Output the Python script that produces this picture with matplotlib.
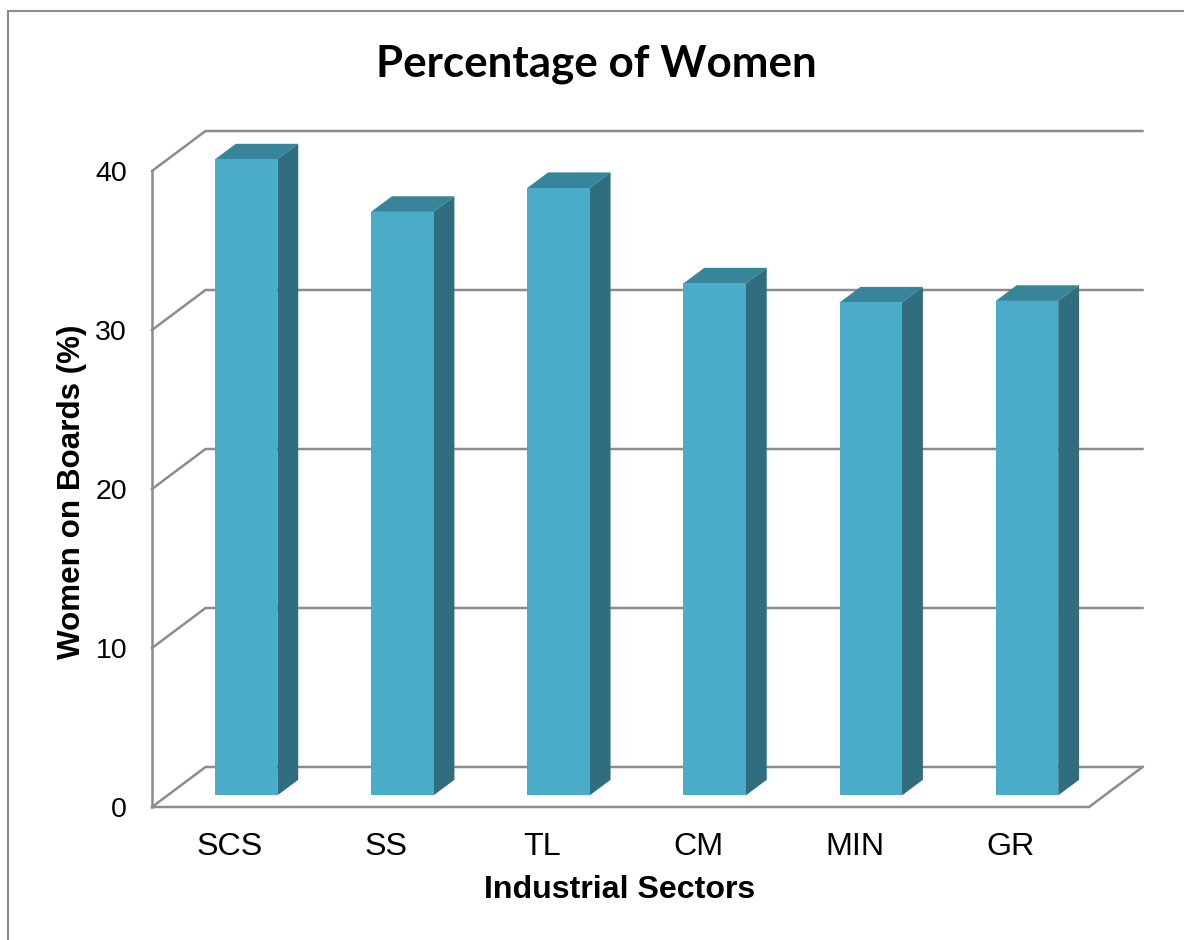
import matplotlib
matplotlib.use('Agg')
import matplotlib.pyplot as plt
from matplotlib.patches import Polygon, Rectangle

sectors = ['SCS', 'SS', 'TL', 'CM', 'MIN', 'GR']
women = [40.0, 36.7, 38.2, 32.2, 31.0, 31.1]
yticks = [0, 10, 20, 30, 40]

W, H = 1184, 940
plt.rc('font', family='Liberation Sans')

fig = plt.figure(figsize=(W / 100, H / 100), dpi=100)

# the front plane of the 3d box is the real axes
left, right, bottom, top = 152, 1089, 807, 171
ax = fig.add_axes([left / W, 1 - bottom / H, (right - left) / W, (bottom - top) / H])
ax.set_xlim(0, len(sectors))
ax.set_ylim(0, 40)
ax.patch.set_visible(False)
for s in ax.spines.values():
    s.set_visible(False)

# depth of the box, in category units / percent units
dx = 53.5 / ((right - left) / len(sectors))
dy = 40 / ((bottom - top) / 40)
grey = '#8c8c8c'
lw = 1.8


def line(xs, ys):
    ax.plot(xs, ys, color=grey, lw=lw, clip_on=False, solid_capstyle='projecting',
            solid_joinstyle='miter', zorder=1)


# back wall gridlines and their slanted bits on the side wall
for t in yticks:
    line([0, dx, 6 + dx], [t, t + dy, t + dy])
line([0, 0], [0, 40])
line([0, 6, 6 + dx], [0, 0, dy])

# bars sit part way into the box
bar_w = 0.4
shift = 0.30
side = 0.39
front = '#4aacc8'
top_c = '#38849b'
side_c = '#306e7f'
for i, v in enumerate(women):
    x0 = i + 0.5 - bar_w / 2 + shift * dx
    x1 = x0 + bar_w
    y0 = 0.29 * dy
    y1 = v + y0
    ax.add_patch(Rectangle((x0, y0), bar_w, v, fc=front, ec='none', zorder=4, clip_on=False))
    ax.add_patch(Polygon([(x0, y1), (x1, y1), (x1 + side * dx, y1 + side * dy), (x0 + side * dx, y1 + side * dy)],
                         fc=top_c, ec='none', zorder=3, clip_on=False))
    ax.add_patch(Polygon([(x1, y0), (x1, y1), (x1 + side * dx, y1 + side * dy), (x1 + side * dx, y0 + side * dy)],
                         fc=side_c, ec='none', zorder=3, clip_on=False))

ax.set_xticks([i + 0.5 for i in range(len(sectors))])
ax.set_xticklabels(sectors, fontsize=23.2)
ax.set_yticks(yticks)
ax.tick_params(axis='both', length=0, colors='black')
ax.tick_params(axis='x', pad=18)
ax.tick_params(axis='y', pad=18, labelsize=20.5)

fig.text(620 / W, 1 - 890 / H, 'Industrial Sectors', fontsize=23.1, fontweight='bold',
         ha='center', va='center')
fig.text(72 / W, 1 - 492 / H, 'Women on Boards (%)', fontsize=22.6, fontweight='bold',
         rotation=90, ha='center', va='center')
fig.text(596.5 / W, 1 - 64 / H, 'Percentage of Women', fontsize=31.7, fontweight='bold',
         family='Lato', ha='center', va='center')

# chart area border, only top and left are in frame
fig.add_artist(plt.Line2D([7.5 / W, 7.5 / W, 1], [0, 1 - 11 / H, 1 - 11 / H], color='#8c8c8c', lw=1.5,
                          solid_joinstyle='miter'))

fig.savefig('out.png', dpi=100)
